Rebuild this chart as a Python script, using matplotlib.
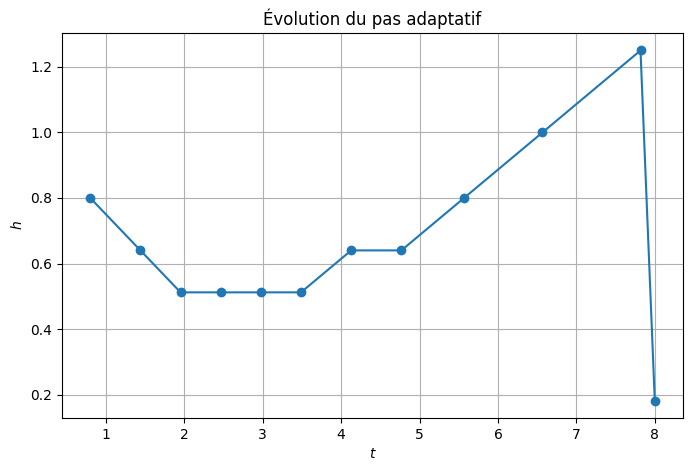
import matplotlib
matplotlib.use("Agg")
import matplotlib.pyplot as plt

# instants et pas lus sur le graphique
t = [0.8, 1.44, 1.952, 2.464, 2.976, 3.488, 4.128, 4.768, 5.568, 6.568, 7.818, 8.0]
h = [0.8, 0.64, 0.512, 0.512, 0.512, 0.512, 0.64, 0.64, 0.8, 1.0, 1.25, 0.182]

fig = plt.figure(figsize=(6.92, 4.71), dpi=100)
ax = fig.add_axes([0.0896, 0.1125, 0.8974, 0.8175])
ax.plot(t, h, 'o-')
ax.set_xlabel("$t$")
ax.set_ylabel("$h$")
ax.set_title("Évolution du pas adaptatif")
ax.grid()
fig.savefig("out.png", dpi=100)
